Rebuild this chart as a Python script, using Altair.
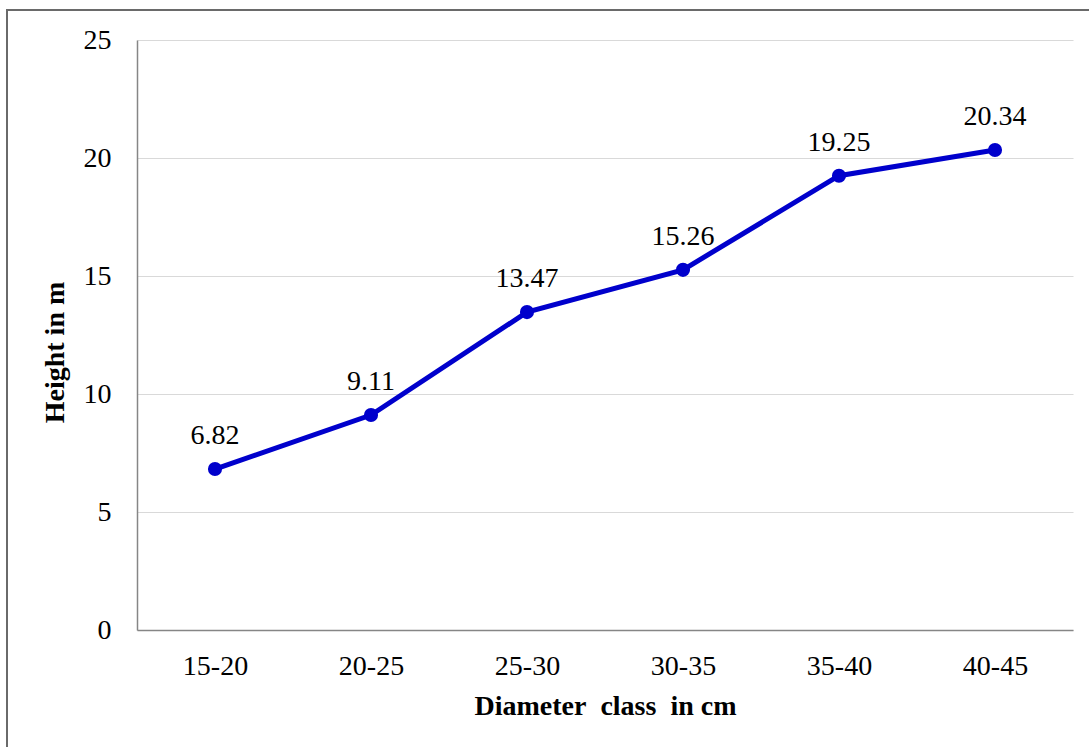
import altair as alt
import pandas as pd

# Mean tree height per diameter class
diameter_classes = ["15-20", "20-25", "25-30", "30-35", "35-40", "40-45"]
heights = [6.82, 9.11, 13.47, 15.26, 19.25, 20.34]
y_ticks = [0, 5, 10, 15, 20, 25]

df = pd.DataFrame({"cls": diameter_classes, "height": heights})

FONT = "Liberation Serif, Times New Roman, serif"
BLUE = "#0000CC"

x_enc = alt.X(
    "cls:N",
    sort=diameter_classes,
    scale=alt.Scale(type="point", padding=0.5),
    axis=alt.Axis(
        title="Diameter\u00a0\u00a0class\u00a0\u00a0in\u00a0cm",
        labelAngle=0,
        ticks=False,
        grid=False,
        domainColor="#868686",
        domainWidth=1.5,
        labelPadding=22,
        titlePadding=12,
    ),
)
y_enc = alt.Y(
    "height:Q",
    scale=alt.Scale(domain=[0, 25], nice=False, zero=True),
    axis=alt.Axis(
        title="Height in m",
        values=y_ticks,
        ticks=False,
        grid=True,
        gridColor="#d9d9d9",
        gridWidth=1.2,
        domainColor="#868686",
        domainWidth=1.5,
        labelPadding=26,
        titlePadding=14,
        titleY=312,
    ),
)

base = alt.Chart(df)

line = base.mark_line(color=BLUE, strokeWidth=5).encode(x=x_enc, y=y_enc)
points = base.mark_circle(color=BLUE, size=200, opacity=1).encode(x=x_enc, y=y_enc)
labels = base.mark_text(
    font=FONT, fontSize=28, baseline="alphabetic", align="center", dy=-25, color="#000000"
).encode(x=x_enc, y=y_enc, text=alt.Text("height:Q", format=".2f"))

# Outer frame around the whole figure
frame = base.mark_rect(
    fill=None, stroke="#6b6b6b", strokeWidth=1.5, clip=False
).encode(
    x=alt.value(-130), x2=alt.value(960), y=alt.value(-30), y2=alt.value(760)
)

chart = (
    alt.layer(frame, line, points, labels)
    .properties(
        width=936,
        height=590,
        autosize=alt.AutoSizeParams(type="none"),
        padding={"left": 137, "top": 40, "right": 16, "bottom": 117},
        background="white",
    )
    .configure_view(stroke=None)
    .configure_axis(
        labelFont=FONT,
        labelFontSize=28,
        labelColor="#000000",
        titleFont=FONT,
        titleFontSize=28,
        titleFontWeight="bold",
        titleColor="#000000",
    )
)

chart.save("out.html", embed_options={"renderer": "svg", "actions": False})
